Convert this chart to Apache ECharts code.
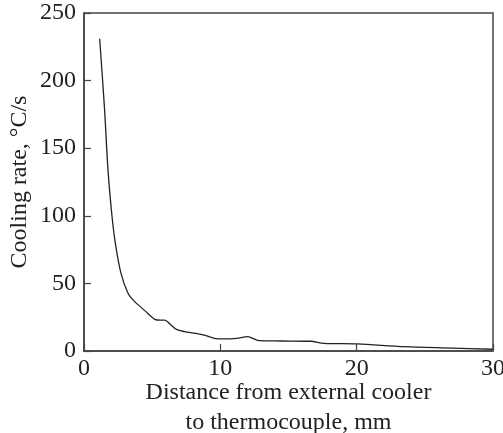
<!DOCTYPE html>
<html><head><meta charset="utf-8">
<script src="https://cdn.jsdelivr.net/npm/echarts@6/dist/echarts.min.js"></script>
<style>html,body{margin:0;padding:0;background:#fff}#c{width:503px;height:433px}</style>
</head><body><div id="c"></div>
<script>
var distance = [1.15, 1.5, 1.76, 2.05, 2.3, 2.7, 3.23, 3.72, 4.5, 5.19, 5.6, 5.92, 6.3, 6.78, 7.39, 8.2, 8.9, 9.54, 10.27, 11.2, 11.99, 12.84, 14.5, 16.63, 17.6, 20.06, 23.5, 27, 29.96];
var coolingRate = [231, 180, 134, 100, 79.6, 58, 42.7, 36.5, 29.5, 23.4, 22.8, 22.9, 20, 16, 14.3, 13.1, 11.5, 9.4, 8.9, 9.4, 10.6, 7.6, 7.4, 7.2, 5.7, 5.2, 3.2, 2.2, 1.3];
var xTicks = [0, 10, 20, 30];
var yTicks = [0, 50, 100, 150, 200, 250];

var font = "'Liberation Serif', 'Times New Roman', serif";
var chart = echarts.init(document.getElementById('c'));
chart.setOption({
  animation: false,
  grid: { left: 84, right: 10, top: 13, bottom: 82, containLabel: false, outerBoundsMode: 'none', show: true, borderColor: '#444', borderWidth: 1.5 },
  xAxis: {
    type: 'value', min: xTicks[0], max: xTicks[xTicks.length - 1], interval: 10,
    name: 'Distance from external cooler\nto thermocouple, mm',
    nameLocation: 'middle', nameGap: 27, nameMoveOverlap: false,
    nameTextStyle: { fontFamily: font, fontSize: 24, color: '#222', lineHeight: 30, verticalAlign: 'top' },
    axisLine: { lineStyle: { color: '#444', width: 1.5 } },
    axisTick: { inside: true, length: 7, lineStyle: { color: '#444', width: 1.2 } },
    axisLabel: { fontFamily: font, fontSize: 24, color: '#222', margin: 6 },
    splitLine: { show: false }
  },
  yAxis: {
    type: 'value', min: yTicks[0], max: yTicks[yTicks.length - 1], interval: 50,
    name: 'Cooling rate, °C/s',
    nameLocation: 'middle', nameGap: 52, nameMoveOverlap: false,
    nameTextStyle: { fontFamily: font, fontSize: 24, color: '#222' },
    axisLine: { lineStyle: { color: '#444', width: 1.5 } },
    axisTick: { inside: true, length: 7, lineStyle: { color: '#444', width: 1.2 } },
    axisLabel: { fontFamily: font, fontSize: 24, color: '#222', margin: 8 },
    splitLine: { show: false }
  },
  series: [{
    type: 'line',
    data: distance.map(function (d, i) { return [d, coolingRate[i]]; }),
    smooth: 0.3,
    showSymbol: false,
    lineStyle: { color: '#222', width: 1.3 }
  }]
});
</script></body></html>
